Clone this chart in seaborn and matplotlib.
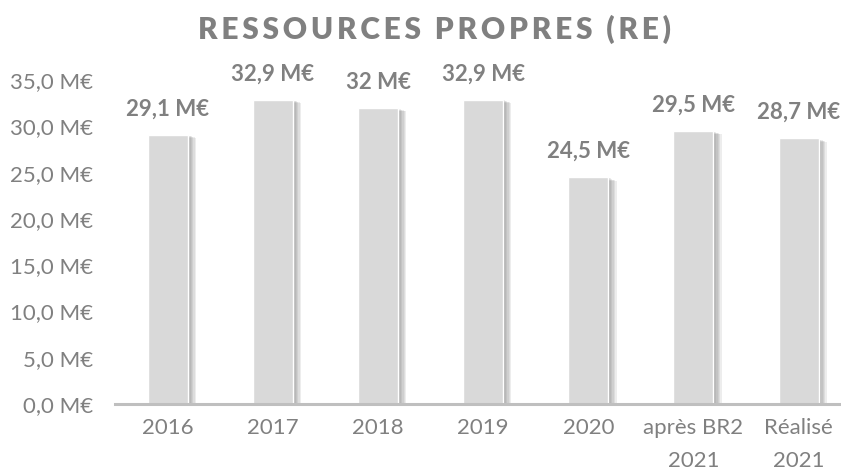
import numpy as np
import pandas as pd
import matplotlib
matplotlib.use("Agg")
import matplotlib.pyplot as plt
import matplotlib.patheffects as pe
import seaborn as sns

# data
categories = ["2016", "2017", "2018", "2019", "2020", "après BR2\n2021", "Réalisé\n2021"]
values = [29.1, 32.9, 32.0, 32.9, 24.5, 29.5, 28.7]
y_ticks = [0, 5, 10, 15, 20, 25, 30, 35]
title = "RESSOURCES PROPRES (RE)"

GREY_TXT = "#808080"
BAR = "#d9d9d9"

sns.set_style("white")
plt.rcParams["font.family"] = ["Lato", "DejaVu Sans"]

df = pd.DataFrame({"cat": categories, "val": values})

fig = plt.figure(figsize=(8.41, 4.71), dpi=100)
ax = fig.add_axes([0.137, 0.142, 0.875, 0.688])

sns.barplot(data=df, x="cat", y="val", color=BAR, width=0.38, saturation=1, ax=ax)

# soft drop shadow on the right of each bar (stacked offsets)
shadow = [pe.SimplePatchShadow(offset=(k, -0.4 * k), shadow_rgbFace="#6e6e6e", alpha=0.12)
          for k in (6, 5, 4, 3, 2, 1)]
for p in ax.patches:
    p.set_path_effects(shadow + [pe.Normal()])

labels = [f"{v:g}".replace(".", ",") + " M€" for v in values]
ax.bar_label(ax.containers[0], labels=labels, padding=11, fontsize=16,
             fontweight="bold", color=GREY_TXT)

ax.set_ylim(0, 35)
ax.set_xlim(-0.5, len(categories) - 0.5)
ax.set_yticks(y_ticks)
ax.set_yticklabels([f"{t:.1f}".replace(".", ",") + " M€" for t in y_ticks])
ax.tick_params(axis="y", length=0, pad=16, labelsize=16, labelcolor=GREY_TXT)
ax.tick_params(axis="x", length=0, pad=10, labelsize=16, labelcolor=GREY_TXT)
for lbl in ax.get_xticklabels():
    lbl.set_linespacing(1.8)

ax.set_xlabel("")
ax.set_ylabel("")
sns.despine(ax=ax, left=True)
ax.spines["bottom"].set_color("#bfbfbf")
ax.spines["bottom"].set_linewidth(2.2)

spaced = "\u2009".join(title).replace("\u2009 \u2009", "  ")
fig.text(0.517, 0.937, spaced, ha="center", va="center", fontsize=21.5,
         fontweight="heavy", color=GREY_TXT)

fig.savefig("out.png", dpi=100)
